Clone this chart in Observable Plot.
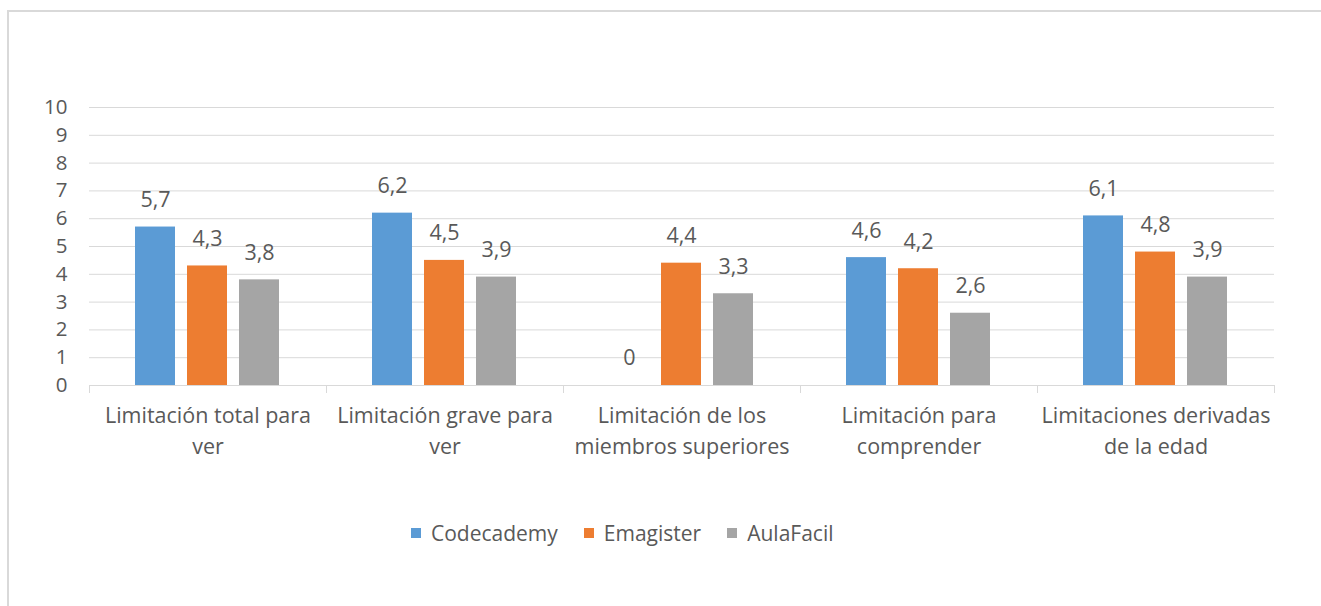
<!DOCTYPE html>
<html>
<head>
<meta charset="utf-8">
<script src="https://cdn.jsdelivr.net/npm/d3@7"></script>
<script src="https://cdn.jsdelivr.net/npm/@observablehq/plot@0.6"></script>
<style>
  html, body { margin: 0; padding: 0; background: #fff; }
  #wrap { position: relative; width: 1321px; height: 606px; overflow: hidden; font-family: "Open Sans", sans-serif; color: #595959; }
  #border { position: absolute; left: 7px; top: 10px; width: 1400px; height: 700px; border: 2px solid #d9d9d9; box-sizing: border-box; }
  #chart { position: absolute; left: 0; top: 0; }
  #legend { position: absolute; top: 519px; left: 411px; display: flex; align-items: center; font-size: 21px; white-space: nowrap; }
  #legend .item { display: flex; align-items: center; margin-right: 26px; }
  #legend .sw { width: 10px; height: 10px; margin-right: 10px; }
</style>
</head>
<body>
<div id="wrap">
  <div id="border"></div>
  <div id="chart"></div>
  <div id="legend"></div>
</div>
<script>
const categories = [
  "Limitación total para ver",
  "Limitación grave para ver",
  "Limitación de los miembros superiores",
  "Limitación para comprender",
  "Limitaciones derivadas de la edad"
];
const categoryLabels = [
  "Limitación total para\nver",
  "Limitación grave para\nver",
  "Limitación de los\nmiembros superiores",
  "Limitación para\ncomprender",
  "Limitaciones derivadas\nde la edad"
];
const series = ["Codecademy", "Emagister", "AulaFacil"];
const colors = ["#5B9BD5", "#ED7D31", "#A5A5A5"];
const codecademy = [5.7, 6.2, 0, 4.6, 6.1];
const emagister = [4.3, 4.5, 4.4, 4.2, 4.8];
const aulafacil = [3.8, 3.9, 3.3, 2.6, 3.9];
const yTicks = [0, 1, 2, 3, 4, 5, 6, 7, 8, 9, 10];

const valuesBySeries = [codecademy, emagister, aulafacil];
const data = [];
categories.forEach((c, i) => {
  series.forEach((s, j) => {
    data.push({category: c, series: s, value: valuesBySeries[j][i]});
  });
});
const labelMap = new Map(categories.map((c, i) => [c, categoryLabels[i]]));
const fmt = v => v.toLocaleString("es-ES");

const chart = Plot.plot({
  width: 1321,
  height: 470,
  marginLeft: 88,
  marginRight: 46,
  marginTop: 107,
  marginBottom: 85,
  style: {fontFamily: "'Open Sans', sans-serif", color: "#595959", background: "transparent"},
  fx: {domain: categories, padding: 0, label: null},
  x: {domain: series, paddingInner: 0.226, paddingOuter: 0.85, axis: null},
  y: {domain: [0, 10], axis: null},
  color: {domain: series, range: colors},
  marks: [
    Plot.gridY(yTicks, {stroke: "#d9d9d9", strokeOpacity: 1, strokeWidth: 1}),
    Plot.frame({anchor: "left", stroke: "#d9d9d9", strokeWidth: 1, insetTop: 278, insetBottom: -7}),
    Plot.frame({anchor: "right", stroke: "#d9d9d9", strokeWidth: 1, insetTop: 278, insetBottom: -7}),
    Plot.barY(data, {fx: "category", x: "series", y: "value", fill: "series"}),
    Plot.text(data, {fx: "category", x: "series", y: "value", text: d => fmt(d.value), dy: -27, fontSize: 21.5, fill: "#595959"}),
    Plot.axisY(yTicks, {facetAnchor: "left", anchor: "left", tickSize: 0, tickPadding: 22, fontSize: 20.5, label: null, fill: "#595959"}),
    Plot.axisFx({anchor: "bottom", tickSize: 0, tickPadding: 16, fontSize: 21.5, lineHeight: 1.42, label: null, tickFormat: c => labelMap.get(c), fill: "#595959"})
  ]
});
document.getElementById("chart").appendChild(chart);

const legend = document.getElementById("legend");
series.forEach((s, i) => {
  const item = document.createElement("div");
  item.className = "item";
  const sw = document.createElement("span");
  sw.className = "sw";
  sw.style.background = colors[i];
  const t = document.createElement("span");
  t.textContent = s;
  item.appendChild(sw);
  item.appendChild(t);
  legend.appendChild(item);
});
</script>
</body>
</html>
